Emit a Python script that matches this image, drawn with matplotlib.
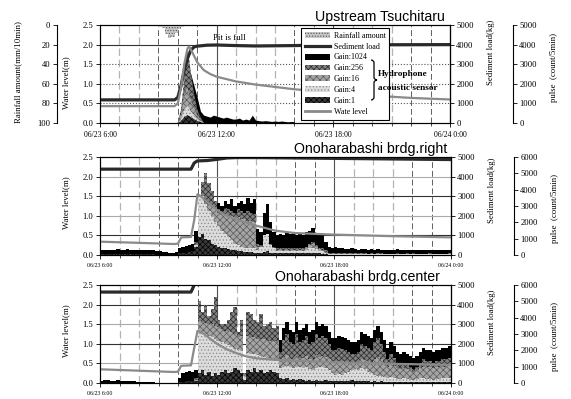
import matplotlib
matplotlib.use('Agg')
import matplotlib.pyplot as plt
import matplotlib.dates as mdates
import pandas as pd
from matplotlib.patches import Patch, PathPatch
from matplotlib.path import Path
from matplotlib.lines import Line2D

plt.rcParams['font.family'] = ['Liberation Serif', 'DejaVu Serif']
plt.rcParams['hatch.linewidth'] = 0.5
SANS = ['Liberation Sans', 'DejaVu Sans']

DAY = pd.Timestamp('2019-06-23')


def hhmm(lst):
    out = []
    for s in lst:
        h, m = s.split(':')
        out.append(DAY + pd.Timedelta(hours=int(h), minutes=int(m)))
    return mdates.date2num(pd.DatetimeIndex(out).to_pydatetime())


def trange(start, end):
    idx = pd.date_range(DAY + pd.Timedelta(start), DAY + pd.Timedelta(end), freq='10min')
    return mdates.date2num(idx.to_pydatetime())


# ---------------- common axis data ----------------
x_major = ['06:00', '12:00', '18:00', '24:00']
x_major_labels = ['06/23 6:00', '06/23 12:00', '06/23 18:00', '06/24 0:00']
x_hours = ['07:00', '08:00', '09:00', '10:00', '11:00', '12:00', '13:00', '14:00', '15:00',
           '16:00', '17:00', '18:00', '19:00', '20:00', '21:00', '22:00', '23:00']
wl_ticks = [0.0, 0.5, 1.0, 1.5, 2.0, 2.5]
sed_ticks = [0, 1000, 2000, 3000, 4000, 5000]
pulse_ticks_p1 = [0, 1000, 2000, 3000, 4000, 5000]
pulse_ticks_p23 = [0, 1000, 2000, 3000, 4000, 5000, 6000]
rain_ticks = [0, 20, 40, 60, 80, 100]
gain_names = ['Gain:1024', 'Gain:256', 'Gain:16', 'Gain:4', 'Gain:1']

# ---------------- Panel 1 : Upstream Tsuchitaru ----------------
rain_start = '08:10'
rain_mm = [1, 1, 1.5, 1, 1, 2, 3, 9, 13, 12, 8, 4, 2, 1, 1.5, 1, 1, 1.5, 1, 1, 1.5, 1, 1]

p1_pulse_start, p1_pulse_end = '10:00:00', '16:00:00'
p1_g1024 = [0, 300, 1000, 2400, 2500, 1900, 1300, 600, 400, 350,
            300, 400, 350, 300, 250, 300, 250, 200, 200, 250,
            150, 200, 150, 400, 150, 120, 100, 120, 100, 80,
            100, 80, 100, 80, 60, 80, 60]
p1_g256 = [0, 700, 2200, 3900, 2600, 1500, 700, 300, 0, 0,
           0, 0, 0, 0, 0, 0, 0, 0, 0, 0,
           0, 0, 0, 0, 0, 0, 0, 0, 0, 0,
           0, 0, 0, 0, 0, 0, 0]
p1_g16 = [0, 400, 1500, 1800, 1200, 800, 400, 200, 0, 0,
          0, 0, 0, 0, 0, 0, 0, 0, 0, 0,
          0, 0, 0, 0, 0, 0, 0, 0, 0, 0,
          0, 0, 0, 0, 0, 0, 0]
p1_g4 = [0, 200, 700, 900, 600, 400, 200, 100, 0, 0,
         0, 0, 0, 0, 0, 0, 0, 0, 0, 0,
         0, 0, 0, 0, 0, 0, 0, 0, 0, 0,
         0, 0, 0, 0, 0, 0, 0]
p1_g1 = [0, 100, 300, 400, 300, 200, 100, 50, 0, 0,
         0, 0, 0, 0, 0, 0, 0, 0, 0, 0,
         0, 0, 0, 0, 0, 0, 0, 0, 0, 0,
         0, 0, 0, 0, 0, 0, 0]

p1_sed_t = ['06:00', '09:50', '10:00', '10:10', '10:20', '10:30', '10:40', '10:50', '11:00', '11:30',
            '12:00', '13:00', '14:00', '15:00', '16:00', '17:00', '18:00', '20:00', '24:00']
p1_sed = [1180, 1180, 1300, 1900, 2700, 3300, 3700, 3880, 3920, 3970,
          3980, 3950, 3930, 3940, 3950, 3970, 3980, 3990, 4000]
p1_wl_t = ['06:00', '09:50', '10:00', '10:10', '10:20', '10:30', '10:35', '10:45', '11:00', '11:20',
           '11:40', '12:00', '12:30', '13:00', '13:30', '14:00', '15:00', '16:00', '17:00', '18:00',
           '20:00', '22:00', '24:00']
p1_wl = [0.43, 0.43, 0.50, 0.90, 1.50, 1.90, 1.95, 1.80, 1.55, 1.35,
         1.25, 1.18, 1.12, 1.06, 1.02, 0.98, 0.92, 0.86, 0.82, 0.78,
         0.70, 0.64, 0.60]

# ---------------- Panel 2 : Onoharabashi brdg.right (10-min, 06:00-24:00) ----------------
p2_g1024 = [280, 300, 320, 300, 330, 340, 310, 320, 350, 330, 310, 300, 320, 300, 290, 310, 280, 260, 240, 200, 170, 150, 140, 160,
            450, 500, 550, 600, 700, 1500,
            2200, 2600, 2800, 3000, 2900, 3100, 3200, 3000, 3300, 3100, 3400, 3000, 3200, 3300, 3100, 3500, 3200, 3400,
            1600, 1400, 2600, 3100, 2000, 1400, 1200, 1300, 1250, 1400, 1300, 1350, 1200, 1300, 1250, 1400, 1500, 1650, 1350, 1300, 1200, 800,
            500, 450, 480, 400, 420, 380, 350, 400, 360, 330, 380, 350, 300, 340, 320, 360, 330, 300, 280, 320,
            300, 340, 310, 290, 320, 300, 330, 300, 280, 310, 300, 320, 290, 300, 280, 310, 300, 320, 300]
p2_g256 = [0] * 29 + [800,
           3000, 4500, 5000, 4400, 3900, 3300,
           2800, 2700, 2900, 2800, 2700, 2600, 2800, 2700, 2600, 2700, 2600, 2500,
           700, 600, 900, 1000, 700, 500, 400, 420, 400, 450, 400, 420, 400, 450, 420, 500, 700, 800, 600, 450, 400, 300,
           150, 130, 140, 120, 130, 110, 110, 120, 110, 100, 110, 100, 90, 100, 90, 100, 100, 90, 80, 90,
           90, 100, 90, 90, 100, 90, 100, 90, 80, 90, 90, 100, 90, 90, 80, 90, 90, 100, 90]
p2_g16 = [0] * 29 + [500,
          2800, 3000, 3100, 3000, 2900, 2800,
          2600, 2500, 2500, 2400, 2400, 2300, 2300, 2200, 2200, 2100, 2100, 2000,
          500, 450, 700, 800, 500, 400, 300, 300, 280, 320, 300, 290, 280, 300, 320, 400, 600, 700, 500, 350, 300, 200,
          90, 80, 90, 80, 80, 70, 70, 80, 70, 60, 70, 60, 60, 60, 60, 60, 60, 60, 50, 60,
          50, 60, 50, 50, 60, 50, 60, 50, 50, 60, 50, 60, 50, 50, 50, 60, 50, 60, 50]
p2_g4 = [0] * 29 + [600,
         3700, 3600, 3100, 2700, 2300, 2000, 1800, 1500, 1300, 1100, 900, 700, 600, 500, 450, 400, 400, 400,
         300, 500, 1200, 1300, 600, 400, 250, 250, 240, 260, 250, 240, 240, 250, 260, 300, 400, 450, 350, 250, 220, 150,
         60, 50, 60, 50, 40, 50, 40, 40, 40, 40, 40, 40, 40, 40, 40, 40, 40, 40, 40, 40,
         40, 40, 40, 40, 40, 40, 40, 40, 40, 40, 40, 40, 40, 40, 40, 40, 40, 40, 40]
p2_g1 = [40, 50, 40, 50, 40, 50, 60, 50, 40, 50, 40, 50, 40, 40, 50, 40, 40, 30, 30, 30, 20, 20, 20, 20,
         100, 120, 150, 200, 250, 500,
         1100, 1300, 1000, 900, 700, 600, 500, 450, 400, 350, 300, 300, 250, 250, 200, 200, 200, 150,
         150, 140, 200, 250, 150, 130, 120, 110, 120, 110, 100, 110, 100, 110, 100, 100, 110, 120, 100, 100, 90, 70,
         30, 20, 30, 20, 30, 20, 30, 20, 30, 20, 30, 20, 30, 20, 30, 20, 30, 20, 30, 20,
         30, 20, 30, 20, 30, 20, 30, 20, 30, 20, 30, 20, 30, 20, 30, 20, 30, 20, 30]

p2_sed_t = ['06:00', '10:40', '10:50', '11:00', '11:30', '12:00', '12:30', '13:00', '14:00', '18:00', '24:00']
p2_sed = [4380, 4380, 4700, 4800, 4820, 4880, 4950, 4970, 4970, 4930, 4870]
p2_wl_t = ['06:00', '08:00', '09:50', '10:00', '10:10', '10:40', '10:50', '11:00', '11:10', '11:30',
           '12:00', '12:30', '13:00', '14:00', '15:00', '16:00', '18:00', '21:00', '24:00']
p2_wl = [0.34, 0.31, 0.28, 0.29, 0.45, 0.46, 0.90, 1.55, 1.50, 1.35,
         1.15, 1.00, 0.90, 0.75, 0.62, 0.56, 0.52, 0.48, 0.45]

# ---------------- Panel 3 : Onoharabashi brdg.center ----------------
p3_g1024 = [150, 160, 170, 150, 140, 160, 150, 130, 120, 110, 100, 90, 80,
            60, 50, 40, 40, 30, 30, 30, 20, 20, 20, 30,
            300, 600, 700, 750, 700, 800,
            3000, 3100, 3200, 3100, 3200, 3300, 3100, 3000, 3000, 3100, 3200, 3300, 2900, 3200, 500,
            3300, 3300, 3200, 3100, 3300, 3100, 3200, 3300, 3100, 3200,
            2640, 3360, 3720, 3240, 3120, 3720, 3240, 3360, 3600, 3120,
            3240, 3720, 3480, 3600, 3480, 3120, 2760, 2760, 2880, 2830,
            2760, 2640, 2520, 2520, 2640, 3120, 3000, 2880, 2760, 3240,
            3480, 3120, 2640, 2160, 2520, 2280, 1920, 1800, 1920, 1800,
            1680, 1560, 1680, 1920, 2160, 2040, 2040, 1920, 2040, 2040,
            2160, 2160, 2280, 2280]
p3_g256 = [0] * 29 + [300,
           5040, 4320, 4800, 4080, 4560, 5280, 3840, 3600, 3600, 3840, 4320, 4680, 3120, 3840, 600,
           4320, 4200, 3840, 3720, 4200, 3480, 3600, 3720, 3360, 3480,
           1900, 2640, 3000, 2520, 2400, 3000, 2520, 2640, 2880, 2400,
           2520, 3000, 2760, 2880, 2760, 2400, 2040, 2040, 2160, 2110,
           2040, 1920, 1800, 1800, 1920, 2400, 2280, 2160, 2040, 2520,
           2760, 2400, 1920, 1440, 1800, 1560, 1200, 1080, 1200, 1080,
           960, 840, 960, 1200, 1440, 1320, 1320, 1200, 1320, 1320,
           1440, 1440, 1560, 1560]
p3_g16 = [0] * 29 + [200,
          3800, 3700, 3700, 3600, 3600, 3500, 3400, 3300, 3200, 3200, 3100, 3000, 2800, 2900, 500,
          2900, 2800, 2800, 2700, 2700, 2700, 2600, 2600, 2600, 2500,
          1300, 1600, 1700, 1500, 1450, 1700, 1500, 1550, 1650, 1450,
          1500, 1700, 1600, 1650, 1600, 1450, 1300, 1300, 1350, 1320,
          1300, 1250, 1200, 1200, 1250, 1450, 1400, 1350, 1300, 1500,
          1600, 1450, 1250, 1000, 1200, 1050, 900, 850, 900, 850,
          780, 700, 780, 900, 1000, 950, 950, 900, 950, 950,
          1000, 1000, 1050, 1050]
p3_g4 = [0] * 29 + [100,
         3100, 3100, 3000, 2900, 2800, 2700, 2600, 2500, 2400, 2300, 2200, 2100, 2000, 1950, 400,
         1850, 1800, 1750, 1700, 1650, 1600, 1550, 1500, 1500, 1450,
         900, 1000, 1050, 950, 900, 1000, 950, 900, 1000, 850,
         800, 900, 950, 1000, 900, 800, 600, 500, 550, 500,
         600, 700, 800, 850, 800, 900, 850, 700, 600, 500,
         450, 400, 350, 300, 350, 300, 250, 250, 300, 250,
         200, 200, 250, 300, 300, 250, 250, 200, 250, 250,
         300, 300, 300, 300]
p3_g1 = [0] * 24 + [50, 80, 100, 100, 100, 150,
         600, 800, 500, 700, 400, 600, 500, 700, 800, 600, 700, 900, 800, 600, 200,
         800, 700, 900, 700, 800, 600, 700, 800, 700, 600,
         300, 250, 300, 200, 250, 200, 250, 200, 150, 200,
         150, 200, 150, 150, 200, 150, 100, 120, 100, 120,
         100, 150, 200, 150, 120, 100, 120, 100, 80, 100,
         80, 100, 80, 60, 80, 60, 80, 60, 60, 80,
         60, 60, 80, 60, 60, 80, 60, 60, 80, 60,
         60, 80, 60, 60]

p3_sed_t = ['06:00', '10:40', '10:50', '11:00', '24:00']
p3_sed = [4640, 4640, 5000, 5600, 5600]
p3_wl_t = ['06:00', '09:50', '10:00', '10:10', '10:40', '10:50', '11:00', '11:20', '11:40', '12:00',
           '12:30', '13:00', '13:30', '14:00', '15:00', '16:00', '18:00', '21:00', '24:00']
p3_wl = [0.35, 0.28, 0.29, 0.44, 0.45, 0.90, 1.33, 1.25, 1.12, 1.00,
         0.86, 0.76, 0.68, 0.63, 0.59, 0.57, 0.53, 0.49, 0.46]

# ---------------- styling ----------------
# (face colour, hatch, hatch colour) for Gain:1024, 256, 16, 4, 1
GAIN_STYLE = [('#000000', None, '#000000'),
              ('#808080', 'xxxxxx', '#2a2a2a'),
              ('#a4a4a4', 'xxxxx', '#5a5a5a'),
              ('#dcdcdc', '.....', '#8a8a8a'),
              ('#3a3a3a', 'xxxxxx', '#000000')]
RAIN_STYLE = ('#c8c8c8', '......', '#555555')
SED_COLOR = '#2a2a2a'
WL_COLOR = '#8a8a8a'

W, H = 571.0, 399.0
fig = plt.figure(figsize=(W / 100, H / 100), dpi=100)


def box(l, t, r, b):
    return [l / W, 1 - b / H, (r - l) / W, (b - t) / H]


def panel(rect, title, tx, pmax, pticks, pt, pulses, step, wt, wv, st, sv, hgrid, xfs, laby,
          rain=None):
    ax = fig.add_axes(rect)
    x0, x1 = hhmm(['06:00', '24:00'])
    # grid
    for h, xx in zip(x_hours, hhmm(x_hours)):
        if h in ('12:00', '18:00'):
            ax.axvline(xx, color='#505050', lw=0.8, ls='-', zorder=0)
        elif h in ('09:00', '10:00', '11:00', '16:00', '17:00', '22:00', '23:00'):
            ax.axvline(xx, color='#606060', lw=0.7, ls=(0, (6, 3)), zorder=0)
        else:
            ax.axvline(xx, color='#b4b4b4', lw=0.9, ls=(0, (6, 3)), zorder=0)
    for y, c, ls in hgrid:
        ax.axhline(y, color=c, lw=0.8, ls=ls, zorder=0)
    ax.set_xlim(x0, x1)
    ax.set_ylim(0, 2.5)
    ax.set_yticks(wl_ticks)
    ax.set_yticklabels(['%.1f' % v for v in wl_ticks])
    ax.set_xticks(hhmm(x_major))
    ax.set_xticklabels(x_major_labels)
    ax.set_xticks(hhmm(x_hours), minor=True)
    ax.tick_params(axis='y', labelsize=6.2, length=3, width=0.6, pad=2)
    ax.tick_params(axis='x', which='major', labelsize=xfs, length=3, width=0.6, pad=2.5)
    ax.tick_params(axis='x', which='minor', length=2, width=0.5)
    ax.set_ylabel('Water level(m)', fontsize=6.3)
    ax.yaxis.set_label_coords(-0.086, laby[0])

    if rain is not None:
        rt, rv = rain
        axr = ax.twinx()
        axr.bar(rt, rv, width=10 / 1440, align='edge', color=RAIN_STYLE[0],
                edgecolor=RAIN_STYLE[2], linewidth=0, hatch=RAIN_STYLE[1])
        axr.set_ylim(100, 0)
        axr.set_yticks(rain_ticks)
        axr.yaxis.set_ticks_position('left')
        axr.yaxis.set_label_position('left')
        axr.spines['left'].set_position(('outward', 31))
        axr.spines['right'].set_visible(False)
        axr.spines['top'].set_visible(False)
        axr.spines['bottom'].set_visible(False)
        axr.tick_params(axis='y', labelsize=6.2, length=3, width=0.6, pad=2)
        axr.set_ylabel('Rainfall amount(mm/10min)', fontsize=6.3)
        axr.yaxis.set_label_coords(-0.223, 0.52)

    axp = ax.twinx()
    for vals, (fc, hatch, hc) in zip(pulses, GAIN_STYLE):
        axp.fill_between(pt, 0, vals, step=step, facecolor=fc, edgecolor=hc,
                         linewidth=0, hatch=hatch)
    axp.set_ylim(0, pmax)
    axp.set_yticks(pticks)
    axp.spines['right'].set_position(('outward', 45.4))
    for s in ('left', 'top', 'bottom'):
        axp.spines[s].set_visible(False)
    axp.tick_params(axis='y', labelsize=6.2, length=3, width=0.6, pad=1.5)
    axp.set_ylabel('pulse  (count/5min)', fontsize=6.3)
    axp.yaxis.set_label_coords(1.286, laby[2])

    axs = ax.twinx()
    axs.plot(st, sv, color=SED_COLOR, lw=2.3, solid_joinstyle='round')
    axs.set_ylim(0, 5000)
    axs.set_yticks(sed_ticks)
    for s in ('left', 'top', 'bottom'):
        axs.spines[s].set_visible(False)
    axs.tick_params(axis='y', labelsize=6.2, length=3, width=0.6, pad=1.5)
    axs.set_ylabel('Sediment load(kg)', fontsize=6.3)
    axs.yaxis.set_label_coords(1.106, laby[1])

    axw = ax.twinx()
    axw.plot(wt, wv, color=WL_COLOR, lw=1.6, solid_joinstyle='round')
    axw.set_ylim(0, 2.5)
    axw.set_yticks([])
    for s in axw.spines.values():
        s.set_linewidth(0.8)
    axw.text(tx, 1.045, title, transform=axw.transAxes, ha='right', va='baseline',
             fontsize=10.2, family=SANS)
    return ax, axw


hg1 = [(0.5, '#555555', ':'), (1.0, '#555555', ':'), (1.5, '#555555', ':'), (2.0, '#333333', '-')]
hg2 = [(0.5, '#333333', '-'), (1.0, '#aaaaaa', '-'), (1.5, '#333333', '-'), (2.0, '#aaaaaa', '-')]
hg3 = [(0.5, '#aaaaaa', '-'), (1.0, '#333333', '-'), (1.5, '#aaaaaa', '-'), (2.0, '#333333', '-')]

t_full = trange('06:00:00', '24:00:00')
rain_t = mdates.date2num(pd.date_range(DAY + pd.Timedelta(rain_start + ':00'), periods=len(rain_mm),
                                       freq='10min').to_pydatetime())
p1_t = trange(p1_pulse_start, p1_pulse_end)

ax1, axw1 = panel(box(100, 25, 450, 123), 'Upstream Tsuchitaru', 0.986, 5000, pulse_ticks_p1,
                  p1_t, [p1_g1024, p1_g256, p1_g16, p1_g4, p1_g1], None,
                  hhmm(p1_wl_t), p1_wl, hhmm(p1_sed_t), p1_sed, hg1, 5.5, (0.41, 0.72, 0.57),
                  rain=(rain_t, rain_mm))
ax2, axw2 = panel(box(100, 157, 451, 255), 'Onoharabashi brdg.right', 0.989, 6000, pulse_ticks_p23,
                  t_full, [p2_g1024, p2_g256, p2_g16, p2_g4, p2_g1], 'post',
                  hhmm(p2_wl_t), p2_wl, hhmm(p2_sed_t), p2_sed, hg2, 4.2, (0.53, 0.66, 0.47))
ax3, axw3 = panel(box(100, 285, 451, 383), 'Onoharabashi brdg.center', 0.969, 6000, pulse_ticks_p23,
                  t_full, [p3_g1024, p3_g256, p3_g16, p3_g4, p3_g1], 'post',
                  hhmm(p3_wl_t), p3_wl, hhmm(p3_sed_t), p3_sed, hg3, 4.2, (0.53, 0.62, 0.47))

axw1.text(0.323, 0.867, 'Pit is full', transform=axw1.transAxes, fontsize=6.3, va='center')

handles = [Patch(facecolor=RAIN_STYLE[0], edgecolor=RAIN_STYLE[2], hatch=RAIN_STYLE[1],
                 linewidth=0, label='Rainfall amount'),
           Line2D([], [], color=SED_COLOR, lw=2.3, label='Sediment load')]
for name, (fc, hatch, hc) in zip(gain_names, GAIN_STYLE):
    handles.append(Patch(facecolor=fc, edgecolor=hc, hatch=hatch, linewidth=0, label=name))
handles.append(Line2D([], [], color=WL_COLOR, lw=2.0, label='Wate level'))

leg = axw1.legend(handles=handles, loc='upper left', bbox_to_anchor=(301 / W, 1 - 28 / H),
                  bbox_transform=fig.transFigure, borderaxespad=0, fontsize=5.8,
                  fancybox=False, edgecolor='black', framealpha=1, handlelength=3.1,
                  handleheight=0.75, labelspacing=0.36, handletextpad=0.5, borderpad=0.45)
leg.get_frame().set_linewidth(0.8)
leg.set_zorder(10)


# curly brace grouping the hydrophone gains (drawn as a path, in pixel positions)
def fp(x, y):
    return (x / W, 1 - y / H)


brace = Path([fp(371, 60), fp(374, 60), fp(374, 63), fp(374, 77), fp(374, 80), fp(377, 80),
              fp(374, 80), fp(374, 83), fp(374, 97), fp(374, 100), fp(371, 100)],
             [Path.MOVETO, Path.CURVE3, Path.CURVE3, Path.LINETO, Path.CURVE3, Path.CURVE3,
              Path.CURVE3, Path.CURVE3, Path.LINETO, Path.CURVE3, Path.CURVE3])
fig.patches.append(PathPatch(brace, transform=fig.transFigure, fill=False, lw=0.9,
                             edgecolor='black', zorder=20))
fig.text(378 / W, 1 - 74 / H, 'Hydrophone', fontsize=6.7, fontweight='bold', va='center', zorder=20)
fig.text(378 / W, 1 - 88 / H, 'acoustic sensor', fontsize=6.7, fontweight='bold', va='center', zorder=20)

fig.savefig('out.png', dpi=100)
